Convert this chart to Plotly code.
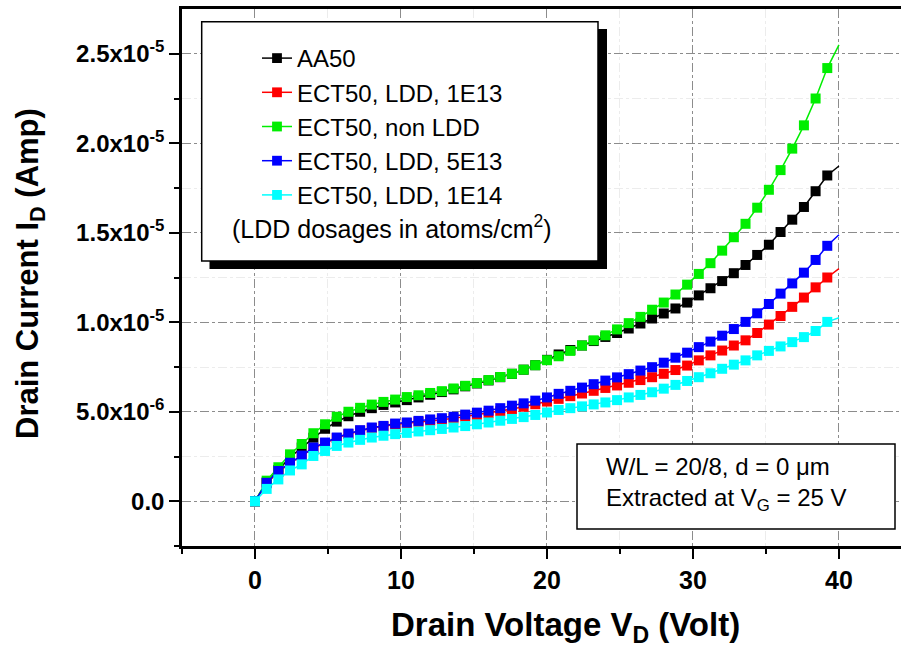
import plotly.graph_objects as go

# ---------------- data (drain current in micro-amps) ----------------
drain_voltage = [0.0, 0.8, 1.6, 2.4, 3.2, 4.0, 4.8, 5.6, 6.4, 7.2, 8.0, 8.8, 9.6, 10.4,
                 11.2, 12.0, 12.8, 13.6, 14.4, 15.2, 16.0, 16.8, 17.6, 18.4, 19.2, 20.0,
                 20.8, 21.6, 22.4, 23.2, 24.0, 24.8, 25.6, 26.4, 27.2, 28.0, 28.8, 29.6,
                 30.4, 31.2, 32.0, 32.8, 33.6, 34.4, 35.2, 36.0, 36.8, 37.6, 38.4, 39.2, 40.0]

id_aa50 = [0, 1.05, 1.75, 2.45, 3.0, 3.55, 4.05, 4.45, 4.75, 5.0,
           5.2, 5.38, 5.52, 5.65, 5.8, 5.95, 6.1, 6.25, 6.42, 6.58,
           6.75, 6.93, 7.12, 7.35, 7.6, 7.9, 8.2, 8.45, 8.7, 8.95,
           9.18, 9.4, 9.65, 9.93, 10.21, 10.49, 10.77, 11.1, 11.5, 11.9,
           12.3, 12.74, 13.2, 13.76, 14.33, 15.04, 15.73, 16.44, 17.32, 18.2, 18.73]

id_ldd_1e13 = [0, 1.0, 1.63, 2.13, 2.53, 2.97, 3.25, 3.53, 3.75, 3.94,
               4.09, 4.18, 4.3, 4.36, 4.44, 4.5, 4.56, 4.63, 4.73, 4.82,
               4.92, 5.03, 5.15, 5.28, 5.42, 5.57, 5.72, 5.87, 6.02, 6.17,
               6.33, 6.47, 6.62, 6.77, 6.93, 7.12, 7.33, 7.58, 7.87, 8.15,
               8.42, 8.7, 8.99, 9.4, 9.87, 10.35, 10.86, 11.38, 11.95, 12.5, 13.0]

id_non_ldd = [0, 1.15, 1.9, 2.62, 3.2, 3.8, 4.3, 4.72, 5.0, 5.22,
              5.4, 5.55, 5.68, 5.82, 5.92, 6.05, 6.15, 6.3, 6.45, 6.6,
              6.77, 6.94, 7.12, 7.35, 7.6, 7.88, 8.1, 8.4, 8.7, 8.99,
              9.27, 9.6, 9.95, 10.3, 10.7, 11.1, 11.55, 12.1, 12.7, 13.3,
              14.0, 14.75, 15.5, 16.4, 17.4, 18.5, 19.7, 21.0, 22.5, 24.2, 25.5]

id_ldd_5e13 = [0, 1.03, 1.69, 2.15, 2.55, 3.0, 3.28, 3.56, 3.78, 3.97,
               4.12, 4.21, 4.34, 4.4, 4.49, 4.57, 4.64, 4.72, 4.84, 4.95,
               5.06, 5.2, 5.34, 5.47, 5.62, 5.8, 6.0, 6.17, 6.35, 6.54,
               6.74, 6.92, 7.1, 7.3, 7.49, 7.74, 8.02, 8.3, 8.61, 8.92,
               9.25, 9.62, 10.02, 10.5, 11.02, 11.6, 12.17, 12.77, 13.48, 14.27, 14.89]

id_ldd_1e14 = [0, 0.69, 1.22, 1.72, 2.06, 2.53, 2.81, 3.09, 3.28, 3.43,
               3.56, 3.66, 3.75, 3.82, 3.9, 3.97, 4.04, 4.12, 4.2, 4.3,
               4.4, 4.5, 4.6, 4.7, 4.82, 4.96, 5.1, 5.2, 5.3, 5.41,
               5.52, 5.65, 5.8, 5.94, 6.09, 6.29, 6.5, 6.72, 6.93, 7.15,
               7.4, 7.63, 7.87, 8.15, 8.4, 8.65, 8.89, 9.17, 9.51, 10.02, 10.25]

series_names = ["AA50", "ECT50, LDD, 1E13", "ECT50, non LDD", "ECT50, LDD, 5E13", "ECT50, LDD, 1E14"]
series_values = [id_aa50, id_ldd_1e13, id_non_ldd, id_ldd_5e13, id_ldd_1e14]
series_colors = ["#000000", "#ff0000", "#00ee00", "#0000ff", "#00ffff"]

y_tick_values = [0, 5e-6, 1e-5, 1.5e-5, 2e-5, 2.5e-5]
y_tick_labels = ["0.0", "5.0x10<sup>-6</sup>", "1.0x10<sup>-5</sup>", "1.5x10<sup>-5</sup>",
                 "2.0x10<sup>-5</sup>", "2.5x10<sup>-5</sup>"]
y_minor_values = [-2.5e-6, 2.5e-6, 7.5e-6, 1.25e-5, 1.75e-5, 2.25e-5]

# ---------------- layout geometry ----------------
W, H = 901, 650
ML, MR, MT, MB = 182, 0, 9, 104
PW, PH = W - ML - MR, H - MT - MB

def px(xp):
    return (xp - ML) / PW

def py(yp):
    return (H - MB - yp) / PH

FONT = "Liberation Sans, Arial, Helvetica, sans-serif"

fig = go.Figure()
for name, vals, color in zip(series_names, series_values, series_colors):
    sizes = [10] * (len(vals) - 1) + [0]
    fig.add_trace(go.Scatter(
        x=drain_voltage, y=[v * 1e-6 for v in vals], name=name,
        mode="lines+markers",
        line=dict(color=color, width=1.5),
        marker=dict(symbol="square", size=sizes, color=color, opacity=1, line=dict(width=0)),
    ))

shapes = [
    # legend shadow and box
    dict(type="rect", xref="paper", yref="paper", layer="above",
         x0=px(209.5), x1=px(607), y0=py(269), y1=py(29),
         fillcolor="black", line=dict(width=0)),
    dict(type="rect", xref="paper", yref="paper", layer="above",
         x0=px(201.7), x1=px(598), y0=py(261), y1=py(21.7),
         fillcolor="white", line=dict(color="black", width=1.5)),
    # info box
    dict(type="rect", xref="paper", yref="paper", layer="above",
         x0=px(577), x1=px(895), y0=py(529), y1=py(444),
         fillcolor="white", line=dict(color="black", width=1.5)),
]

annotations = [
    dict(text="(LDD dosages in atoms/cm<sup>2</sup>)", xref="paper", yref="paper",
         x=px(230), y=py(227), xanchor="left", yanchor="middle", showarrow=False,
         font=dict(family=FONT, size=25, color="black")),
    dict(text="W/L = 20/8, d = 0 \u03bcm<br>Extracted at V<sub>G</sub> = 25 V", xref="paper", yref="paper",
         x=px(604), y=py(484), xanchor="left", yanchor="middle", align="left", showarrow=False,
         font=dict(family=FONT, size=24, color="black")),
    dict(text="Drain Voltage V<sub>D</sub> (Volt)", xref="paper", yref="paper",
         x=px(565), y=py(627), xanchor="center", yanchor="middle", showarrow=False,
         font=dict(family=FONT, size=33, color="black", weight="bold")),
    dict(text="Drain Current I<sub>D</sub> (Amp)", xref="paper", yref="paper",
         x=px(30), y=py(274), xanchor="center", yanchor="middle", showarrow=False, textangle=-90,
         font=dict(family=FONT, size=31, color="black", weight="bold")),
]

fig.update_layout(
    width=W, height=H,
    margin=dict(l=ML, r=MR, t=MT, b=MB, pad=0),
    paper_bgcolor="white", plot_bgcolor="white",
    showlegend=True,
    legend=dict(x=px(257), y=py(36), xanchor="left", yanchor="top",
                bgcolor="rgba(0,0,0,0)", borderwidth=0, tracegroupgap=0,
                font=dict(family=FONT, size=24, color="black")),
    shapes=shapes, annotations=annotations,
    xaxis=dict(range=[-5, 44.25], tick0=0, dtick=10, showline=True, linewidth=2.5, linecolor="black",
               mirror=True, ticks="outside", ticklen=10, tickwidth=2, tickcolor="black",
               showgrid=True, gridcolor="#8c8c8c", gridwidth=1, griddash="dashdot", zeroline=False,
               tickfont=dict(family=FONT, size=25, color="black", weight="bold"),
               minor=dict(dtick=5, tick0=0, ticks="outside", ticklen=5, tickwidth=2, tickcolor="black",
                          showgrid=True, gridcolor="#ececec", gridwidth=1)),
    yaxis=dict(range=[-2.5e-6, 2.75e-5], tickmode="array", tickvals=y_tick_values, ticktext=y_tick_labels,
               showline=True, linewidth=2.5, linecolor="black", mirror=False,
               ticks="outside", ticklen=10, tickwidth=2, tickcolor="black",
               showgrid=True, gridcolor="#8c8c8c", gridwidth=1, griddash="dashdot", zeroline=False,
               tickfont=dict(family=FONT, size=24, color="black", weight="bold"),
               minor=dict(tickmode="array", tickvals=y_minor_values, ticks="outside", ticklen=5, tickwidth=2,
                          tickcolor="black", showgrid=True, gridcolor="#ececec", gridwidth=1)),
)

fig.write_html("out.html")
